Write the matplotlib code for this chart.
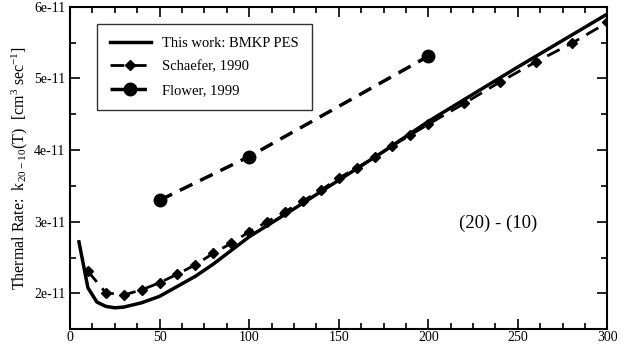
import matplotlib
matplotlib.use("Agg")
import matplotlib.pyplot as plt
from matplotlib.ticker import MultipleLocator, FuncFormatter

plt.rcParams['font.family'] = 'Liberation Serif'
plt.rcParams['mathtext.fontset'] = 'custom'
plt.rcParams['mathtext.rm'] = 'Liberation Serif'
plt.rcParams['mathtext.default'] = 'regular'

# this work (BMKP PES)
T_work = [5, 10, 15, 20, 25, 30, 40, 50, 60, 70, 80, 90, 100, 125, 150, 175, 200, 250, 300]
k_work = [2.72, 2.08, 1.88, 1.82, 1.80, 1.81, 1.87, 1.96, 2.10, 2.24, 2.41, 2.60, 2.79,
          3.18, 3.58, 3.98, 4.40, 5.16, 5.90]

# Schaefer, 1990
T_sch = [10, 20, 30, 40, 50, 60, 70, 80, 90, 100, 110, 120, 130, 140, 150, 160, 170,
         180, 190, 200, 220, 240, 260, 280, 300]
k_sch = [2.31, 2.01, 1.98, 2.05, 2.15, 2.27, 2.40, 2.56, 2.70, 2.86, 3.00, 3.14, 3.29,
         3.44, 3.61, 3.75, 3.90, 4.06, 4.21, 4.36, 4.65, 4.95, 5.23, 5.49, 5.78]

# Flower, 1999
T_flo = [50, 100, 200]
k_flo = [3.30, 3.91, 5.31]

scale = 1e-11
k_work = [v * scale for v in k_work]
k_sch = [v * scale for v in k_sch]
k_flo = [v * scale for v in k_flo]

fig = plt.figure(figsize=(6.21, 3.45), dpi=100)
ax = fig.add_axes([0.1127, 0.0455, 0.8655, 0.935])

ax.plot(T_work, k_work, '-', color='black', lw=2.5, label='This work: BMKP PES')
ax.plot(T_sch, k_sch, '--', color='black', lw=2.0, dashes=(5, 3), marker='D',
        markersize=5.5, label='Schaefer, 1990')
ax.plot(T_flo, k_flo, '--', color='black', lw=2.5, dashes=(4, 2.5), marker='o',
        markersize=9, label='Flower, 1999')

ax.set_xlim(0, 300)
ax.set_ylim(1.5e-11, 6e-11)
ax.xaxis.set_major_locator(MultipleLocator(50))
ax.xaxis.set_minor_locator(MultipleLocator(12.5))
ax.yaxis.set_major_locator(MultipleLocator(1e-11))
ax.yaxis.set_minor_locator(MultipleLocator(0.5e-11))
ax.yaxis.set_major_formatter(FuncFormatter(lambda v, p: '%de-11' % round(v / scale)))
ax.xaxis.set_major_formatter(FuncFormatter(lambda v, p: '%d' % v))

ax.tick_params(which='both', direction='in', top=True, right=True, labelsize=10,
               width=1.2)
ax.tick_params(which='major', length=7)
ax.tick_params(which='minor', length=4)
ax.tick_params(axis='x', which='major', pad=1.5)
for s in ax.spines.values():
    s.set_linewidth(1.5)

ax.set_ylabel('Thermal Rate:  k$_{20-10}$(T)  [cm$^{3}$ sec$^{-1}$]', fontsize=11.5,
              labelpad=3)

ax.text(239, 2.98e-11, '(20) - (10)', fontsize=13.5, ha='center', va='center')

leg = ax.legend(loc='upper left', bbox_to_anchor=(0.05, 0.947), borderaxespad=0,
                fancybox=False, edgecolor='black', fontsize=10.5, handlelength=2.8,
                labelspacing=0.7, borderpad=0.9)
leg.get_frame().set_linewidth(1.0)

fig.savefig('out.png', dpi=100)
